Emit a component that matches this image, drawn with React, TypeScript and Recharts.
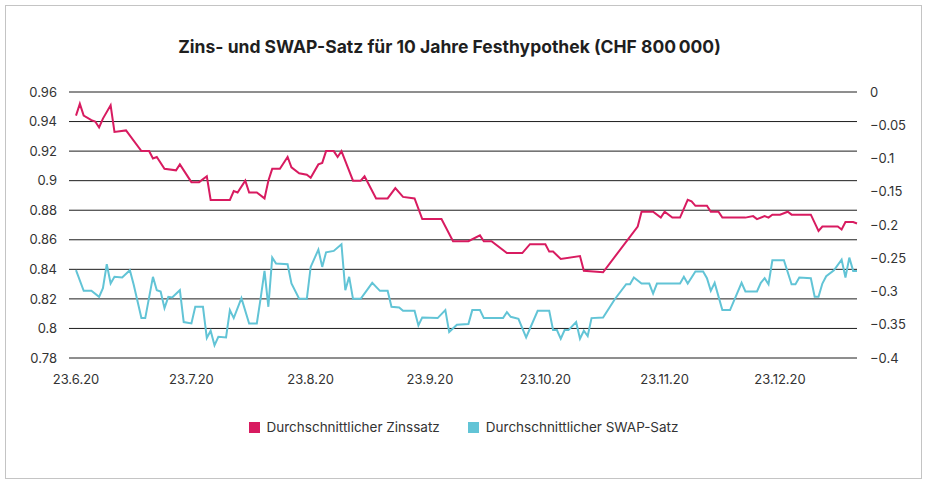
import { LineChart, Line, XAxis, YAxis, CartesianGrid } from 'recharts';

const START = '2020-06-23';
const END = '2021-01-12';

const tickDates = ['2020-06-23', '2020-07-23', '2020-08-23', '2020-09-23', '2020-10-23', '2020-11-23', '2020-12-23'];
const tickLabels = ['23.6.20', '23.7.20', '23.8.20', '23.9.20', '23.10.20', '23.11.20', '23.12.20'];

const leftTicks = [0.78, 0.8, 0.82, 0.84, 0.86, 0.88, 0.9, 0.92, 0.94, 0.96];
const rightTicks = [-0.4, -0.35, -0.3, -0.25, -0.2, -0.15, -0.1, -0.05, 0];

// Durchschnittlicher Zinssatz (linke Achse)
const zinsDates = [
  '2020-06-23', '2020-06-24', '2020-06-25', '2020-06-27', '2020-06-28', '2020-06-29', '2020-06-30',
  '2020-07-02', '2020-07-03', '2020-07-06', '2020-07-10', '2020-07-12', '2020-07-13', '2020-07-14',
  '2020-07-16', '2020-07-19', '2020-07-20', '2020-07-23', '2020-07-25', '2020-07-27', '2020-07-28',
  '2020-08-02', '2020-08-03', '2020-08-04', '2020-08-06', '2020-08-07', '2020-08-09', '2020-08-11',
  '2020-08-12', '2020-08-13', '2020-08-15', '2020-08-17', '2020-08-18', '2020-08-20', '2020-08-22',
  '2020-08-23', '2020-08-25', '2020-08-26', '2020-08-27', '2020-08-29', '2020-08-30', '2020-08-31',
  '2020-09-03', '2020-09-05', '2020-09-06', '2020-09-09', '2020-09-12', '2020-09-14', '2020-09-16',
  '2020-09-19', '2020-09-21', '2020-09-26', '2020-09-29', '2020-10-01', '2020-10-03', '2020-10-06',
  '2020-10-07', '2020-10-09', '2020-10-13', '2020-10-17', '2020-10-19', '2020-10-23', '2020-10-24',
  '2020-10-25', '2020-10-27', '2020-11-01', '2020-11-02', '2020-11-07', '2020-11-16', '2020-11-17',
  '2020-11-20', '2020-11-22', '2020-11-23', '2020-11-25', '2020-11-27', '2020-11-29', '2020-11-30',
  '2020-12-01', '2020-12-04', '2020-12-05', '2020-12-07', '2020-12-08', '2020-12-14', '2020-12-16',
  '2020-12-17', '2020-12-19', '2020-12-20', '2020-12-21', '2020-12-23', '2020-12-25', '2020-12-26',
  '2020-12-31', '2021-01-02', '2021-01-03', '2021-01-07', '2021-01-08', '2021-01-09', '2021-01-11',
  '2021-01-12',
];
const zinsValues = [
  0.944, 0.952, 0.944, 0.941, 0.94, 0.936, 0.942,
  0.951, 0.933, 0.934, 0.92, 0.92, 0.915, 0.916,
  0.908, 0.907, 0.911, 0.899, 0.899, 0.903, 0.887,
  0.887, 0.893, 0.892, 0.9, 0.892, 0.892, 0.888,
  0.9, 0.908, 0.908, 0.916, 0.909, 0.905, 0.904,
  0.902, 0.911, 0.912, 0.92, 0.92, 0.916, 0.92,
  0.9, 0.9, 0.903, 0.888, 0.888, 0.895, 0.889,
  0.888, 0.874, 0.874, 0.859, 0.859, 0.859, 0.863,
  0.859, 0.859, 0.851, 0.851, 0.857, 0.857, 0.852,
  0.852, 0.847, 0.849, 0.839, 0.838, 0.869, 0.879,
  0.879, 0.875, 0.879, 0.875, 0.875, 0.887, 0.886,
  0.883, 0.883, 0.879, 0.879, 0.875, 0.875, 0.876,
  0.874, 0.876, 0.875, 0.877, 0.877, 0.879, 0.877,
  0.877, 0.866, 0.869, 0.869, 0.867, 0.872, 0.872,
  0.871,
];

// Durchschnittlicher SWAP-Satz (rechte Achse)
const swapDates = [
  '2020-06-23', '2020-06-25', '2020-06-27', '2020-06-29', '2020-06-30', '2020-07-01', '2020-07-02',
  '2020-07-03', '2020-07-05', '2020-07-07', '2020-07-08', '2020-07-10', '2020-07-11', '2020-07-13',
  '2020-07-14', '2020-07-15', '2020-07-16', '2020-07-17', '2020-07-18', '2020-07-20', '2020-07-21',
  '2020-07-23', '2020-07-24', '2020-07-26', '2020-07-27', '2020-07-28', '2020-07-29', '2020-07-30',
  '2020-08-01', '2020-08-02', '2020-08-03', '2020-08-05', '2020-08-07', '2020-08-09', '2020-08-10',
  '2020-08-11', '2020-08-12', '2020-08-13', '2020-08-14', '2020-08-17', '2020-08-18', '2020-08-20',
  '2020-08-22', '2020-08-23', '2020-08-25', '2020-08-26', '2020-08-27', '2020-08-29', '2020-08-31',
  '2020-09-01', '2020-09-02', '2020-09-03', '2020-09-05', '2020-09-08', '2020-09-10', '2020-09-12',
  '2020-09-13', '2020-09-15', '2020-09-16', '2020-09-19', '2020-09-20', '2020-09-21', '2020-09-25',
  '2020-09-27', '2020-09-28', '2020-09-30', '2020-10-03', '2020-10-04', '2020-10-06', '2020-10-07',
  '2020-10-12', '2020-10-13', '2020-10-14', '2020-10-16', '2020-10-18', '2020-10-21', '2020-10-24',
  '2020-10-25', '2020-10-26', '2020-10-27', '2020-10-28', '2020-10-29', '2020-10-31', '2020-11-01',
  '2020-11-02', '2020-11-03', '2020-11-04', '2020-11-07', '2020-11-10', '2020-11-13', '2020-11-14',
  '2020-11-15', '2020-11-17', '2020-11-19', '2020-11-20', '2020-11-21', '2020-11-27', '2020-11-28',
  '2020-11-29', '2020-12-01', '2020-12-03', '2020-12-04', '2020-12-05', '2020-12-06', '2020-12-08',
  '2020-12-10', '2020-12-13', '2020-12-14', '2020-12-17', '2020-12-18', '2020-12-19', '2020-12-20',
  '2020-12-21', '2020-12-24', '2020-12-26', '2020-12-27', '2020-12-28', '2020-12-31', '2021-01-01',
  '2021-01-02', '2021-01-03', '2021-01-04', '2021-01-06', '2021-01-08', '2021-01-09', '2021-01-10',
  '2021-01-11', '2021-01-12',
];
const swapValues = [
  -0.268, -0.299, -0.299, -0.308, -0.295, -0.259, -0.288,
  -0.278, -0.279, -0.268, -0.29, -0.34, -0.34, -0.278,
  -0.298, -0.3, -0.325, -0.308, -0.309, -0.298, -0.346,
  -0.348, -0.323, -0.323, -0.37, -0.359, -0.381, -0.368,
  -0.369, -0.328, -0.34, -0.31, -0.348, -0.348, -0.31,
  -0.269, -0.323, -0.249, -0.258, -0.259, -0.288, -0.311,
  -0.311, -0.263, -0.237, -0.263, -0.241, -0.239, -0.229,
  -0.298, -0.278, -0.311, -0.311, -0.287, -0.299, -0.299,
  -0.323, -0.324, -0.329, -0.329, -0.351, -0.339, -0.34,
  -0.328, -0.361, -0.35, -0.349, -0.328, -0.328, -0.34,
  -0.34, -0.331, -0.338, -0.341, -0.369, -0.329, -0.329,
  -0.358, -0.358, -0.371, -0.358, -0.358, -0.346, -0.371,
  -0.359, -0.367, -0.34, -0.339, -0.312, -0.289, -0.289,
  -0.279, -0.288, -0.288, -0.303, -0.288, -0.288, -0.278,
  -0.288, -0.27, -0.27, -0.28, -0.299, -0.287, -0.328,
  -0.328, -0.287, -0.3, -0.3, -0.287, -0.28, -0.289,
  -0.253, -0.253, -0.289, -0.289, -0.279, -0.28, -0.308,
  -0.308, -0.288, -0.277, -0.268, -0.252, -0.279, -0.249,
  -0.269, -0.269,
];

const ZINS_COLOR = '#d81b60';
const SWAP_COLOR = '#62c4d6';
const TEXT_COLOR = '#333333';
const FONT = 'Inter, Lato, "Noto Sans", sans-serif';

const DAY = 86400000;
const dayOf = (d: string) => Math.round((Date.parse(d) - Date.parse(START)) / DAY);

type Row = { t: number; zins?: number; swap?: number };

function buildRows(): Row[] {
  const map = new Map<number, Row>();
  zinsDates.forEach((d, i) => {
    const t = dayOf(d);
    const row = map.get(t) ?? { t };
    row.zins = zinsValues[i];
    map.set(t, row);
  });
  swapDates.forEach((d, i) => {
    const t = dayOf(d);
    const row = map.get(t) ?? { t };
    row.swap = swapValues[i];
    map.set(t, row);
  });
  return Array.from(map.values()).sort((a, b) => a.t - b.t);
}

const rows = buildRows();
const xTicks = tickDates.map(dayOf);

const formatX = (v: number) => tickLabels[xTicks.indexOf(v)] ?? '';
const formatRight = (v: number) => (v === 0 ? '0' : '\u2212' + String(Math.abs(v)));

const tickStyle = { fill: TEXT_COLOR, fontSize: 13, fontFamily: FONT };

function LegendItem({ color, label }: { color: string; label: string }) {
  return (
    <div style={{ display: 'flex', alignItems: 'center' }}>
      <span style={{ width: 11, height: 11, background: color, marginRight: 7, display: 'inline-block' }} />
      <span>{label}</span>
    </div>
  );
}

export default function App() {
  return (
    <div style={{ position: 'absolute', left: 0, top: 0, width: 927, height: 488, background: '#fff', fontFamily: FONT }}>
      <div
        style={{
          position: 'absolute',
          left: 5,
          top: 5,
          width: 915,
          height: 472,
          border: '1.5px solid #c4c4c4',
        }}
      />
      <div
        style={{
          position: 'absolute',
          left: -14,
          top: 36,
          width: 927,
          textAlign: 'center',
          fontSize: 17.5,
          fontWeight: 700,
          color: '#1f1f1f',
        }}
      >
        Zins- und SWAP-Satz für 10 Jahre Festhypothek (CHF 800{'\u2009'}000)
      </div>

      <div style={{ position: 'absolute', left: 0, top: 0 }}>
        <LineChart width={927} height={488} data={rows} margin={{ top: 92, right: 0, bottom: 0, left: 0 }}>
          <CartesianGrid yAxisId="left" vertical={false} stroke="#1e1e1e" strokeWidth={1} />
          <XAxis
            dataKey="t"
            type="number"
            domain={[0, dayOf(END)]}
            ticks={xTicks}
            tickFormatter={formatX}
            axisLine={false}
            tickLine={false}
            tickSize={0}
            tickMargin={17}
            height={130}
            padding={{ left: 7, right: 0 }}
            tick={tickStyle}
            interval={0}
          />
          <YAxis
            yAxisId="left"
            orientation="left"
            domain={[0.78, 0.96]}
            ticks={leftTicks}
            width={69}
            axisLine={false}
            tickLine={false}
            tickSize={0}
            tickMargin={12}
            tick={tickStyle}
            interval={0}
          />
          <YAxis
            yAxisId="right"
            orientation="right"
            domain={[-0.4, 0]}
            ticks={rightTicks}
            tickFormatter={formatRight}
            width={70}
            axisLine={false}
            tickLine={false}
            tickSize={0}
            tickMargin={13}
            tick={{ ...tickStyle, textAnchor: 'start' }}
            interval={0}
          />
          <Line
            yAxisId="left"
            type="linear"
            dataKey="zins"
            stroke={ZINS_COLOR}
            strokeWidth={2}
            dot={false}
            connectNulls
            isAnimationActive={false}
          />
          <Line
            yAxisId="right"
            type="linear"
            dataKey="swap"
            stroke={SWAP_COLOR}
            strokeWidth={2}
            dot={false}
            connectNulls
            isAnimationActive={false}
          />
        </LineChart>
      </div>

      <div
        style={{
          position: 'absolute',
          top: 419,
          width: 927,
          display: 'flex',
          justifyContent: 'center',
          gap: 28,
          fontSize: 13.5,
          color: TEXT_COLOR,
          lineHeight: '17px',
        }}
      >
        <LegendItem color={ZINS_COLOR} label="Durchschnittlicher Zinssatz" />
        <LegendItem color={SWAP_COLOR} label="Durchschnittlicher SWAP-Satz" />
      </div>
    </div>
  );
}
